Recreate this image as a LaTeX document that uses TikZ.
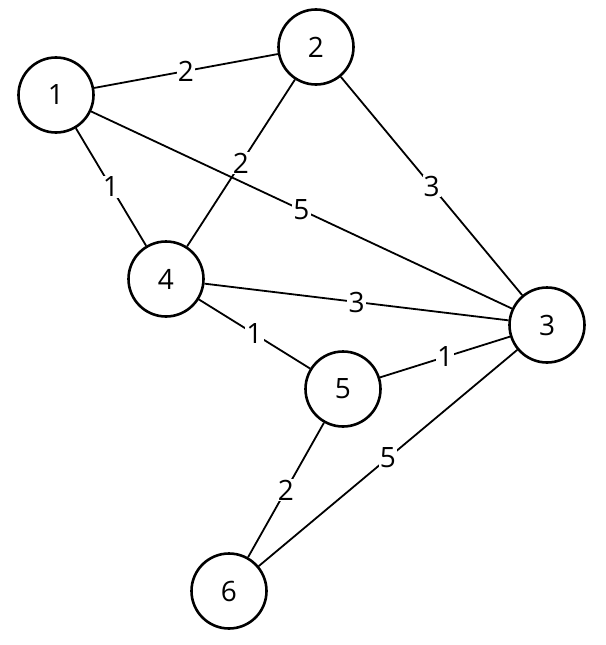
\documentclass[tikz,border=0pt]{standalone}
\usepackage{fontspec}
\setmainfont{Open Sans}
\usetikzlibrary{positioning}

\begin{document}
\begin{tikzpicture}[x=1pt, y=-1pt,
        vertex/.style={draw, circle, line width=2.6pt, minimum size=75pt, inner sep=0pt, font=\fontsize{28}{28}\selectfont},
        weight/.style={fill=white, inner sep=1pt, font=\fontsize{28}{28}\selectfont},
        edge/.style={line width=1.8pt}]
        \useasboundingbox (0,0) rectangle (605,645);

        \node[vertex] (n1) at (56,95) {1};
        \node[vertex] (n2) at (316,47) {2};
        \node[vertex] (n3) at (547,325) {3};
        \node[vertex] (n4) at (166,279) {4};
        \node[vertex] (n5) at (343,389) {5};
        \node[vertex] (n6) at (229,591) {6};

        % edges with weights
        \draw[edge] (n1) -- node[weight] {2} (n2);
        \draw[edge] (n1) -- node[weight] {1} (n4);
        \draw[edge] (n1) -- node[weight] {5} (n3);
        \draw[edge] (n2) -- node[weight] {2} (n4);
        \draw[edge] (n2) -- node[weight] {3} (n3);
        \draw[edge] (n4) -- node[weight] {3} (n3);
        \draw[edge] (n4) -- node[weight] {1} (n5);
        \draw[edge] (n5) -- node[weight] {1} (n3);
        \draw[edge] (n5) -- node[weight] {2} (n6);
        \draw[edge] (n6) -- node[weight] {5} (n3);

    \end{tikzpicture}
\end{document}
